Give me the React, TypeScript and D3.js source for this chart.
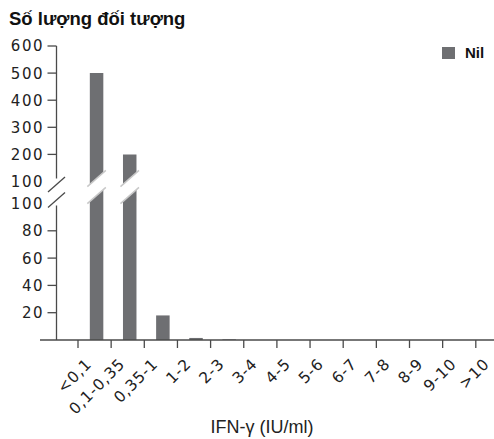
import React from 'react'
import * as d3 from 'd3'

// IFN-γ categories and the Nil counts
const categories = ['<0,1', '0,1-0,35', '0,35-1', '1-2', '2-3', '3-4', '4-5', '5-6', '6-7', '7-8', '8-9', '9-10', '>10']
const nilValues = [500, 200, 18, 1.5, 0.5, 0, 0, 0, 0, 0, 0, 0, 0]
const lowTicks = [20, 40, 60, 80]
const highTicks = [200, 300, 400, 500, 600]
const breakValue = 100

const W = 494
const H = 439
const barColor = '#6e6f72'
const axisColor = '#4a4a4a'
const tickFont = '"DejaVu Sans", sans-serif'
const textFont = '"Liberation Sans", Arial, sans-serif'

export default function App() {
    const axisX = 56.5
    const baseY = 340
    const x = d3.scaleBand<string>().domain(categories).range([78, 78 + 13 * 33.15])
    const yLow = d3.scaleLinear().domain([0, breakValue]).range([baseY, 203.5])
    const yHigh = d3.scaleLinear().domain([breakValue, 600]).range([181.5, 46])

    const bw = x.bandwidth()
    const barW = 13.5
    const slope = 15 / 17
    const cutLow = yLow(breakValue) - 8
    const cutHigh = yHigh(breakValue) - 3

    const slash = (cy: number) => `M${axisX - 8.5},${cy + 7.5}L${axisX + 8.5},${cy - 7.5}`

    return (
        <div style={{ position: 'absolute', left: 0, top: 0 }}>
            <svg width={W} height={H} style={{ display: 'block', background: '#fff' }}>
                <text x={9} y={25} fontFamily={textFont} fontWeight='bold' fontSize={18.5} fill='#111'>
                    Số lượng đối tượng
                </text>

                {/* bars */}
                {nilValues.map((v, i) => {
                    const c = categories[i]
                    const x0 = (x(c) as number) + (bw - barW) / 2 + 2
                    const x1 = x0 + barW
                    const cx = (x0 + x1) / 2
                    if (v <= 0) return null
                    if (v <= breakValue) {
                        return (
                            <rect key={c} x={x0} y={yLow(v)} width={barW} height={baseY - yLow(v)} fill={barColor} />
                        )
                    }
                    const lowL = cutLow + slope * (cx - x0)
                    const lowR = cutLow - slope * (x1 - cx)
                    const hiL = cutHigh + slope * (cx - x0)
                    const hiR = cutHigh - slope * (x1 - cx)
                    const ext = 2.5
                    return (
                        <g key={c}>
                            <path d={`M${x0},${baseY}L${x1},${baseY}L${x1},${lowR}L${x0},${lowL}Z`} fill={barColor} />
                            <path d={`M${x0},${yHigh(v)}L${x1},${yHigh(v)}L${x1},${hiR}L${x0},${hiL}Z`} fill={barColor} />
                            <line x1={x0 - ext} y1={lowL + slope * ext} x2={x1 + ext} y2={lowR - slope * ext} stroke='#c8c8c8' strokeWidth={1.5} />
                            <line x1={x0 - ext} y1={hiL + slope * ext} x2={x1 + ext} y2={hiR - slope * ext} stroke='#c8c8c8' strokeWidth={1.5} />
                        </g>
                    )
                })}

                {/* y axis with break */}
                <g stroke={axisColor} strokeWidth={1.3} fill='none'>
                    <line x1={axisX} y1={yHigh(600)} x2={axisX} y2={yHigh(breakValue) - 3} />
                    <line x1={axisX} y1={yLow(breakValue) + 2} x2={axisX} y2={baseY} />
                    <path d={slash(yHigh(breakValue) + 3)} />
                    <path d={slash(yLow(breakValue) - 3.5)} />
                    {highTicks.map(t => (
                        <line key={'h' + t} x1={axisX - 9} x2={axisX} y1={yHigh(t)} y2={yHigh(t)} />
                    ))}
                    {lowTicks.map(t => (
                        <line key={'l' + t} x1={axisX - 9} x2={axisX} y1={yLow(t)} y2={yLow(t)} />
                    ))}
                </g>
                <g fontFamily={tickFont} fontSize={15} letterSpacing={1.5} fill='#222' textAnchor='end'>
                    {highTicks.map(t => (
                        <text key={'ht' + t} x={44} y={yHigh(t)} dy='0.36em'>{t}</text>
                    ))}
                    <text x={44} y={yHigh(breakValue)} dy='0.36em'>{breakValue}</text>
                    <text x={44} y={yLow(breakValue)} dy='0.36em'>{breakValue}</text>
                    {lowTicks.map(t => (
                        <text key={'lt' + t} x={44} y={yLow(t)} dy='0.36em'>{t}</text>
                    ))}
                </g>

                {/* x axis */}
                <g stroke={axisColor} strokeWidth={1.3}>
                    <line x1={40} x2={W} y1={baseY} y2={baseY} />
                    {categories.map(c => (
                        <line key={c} x1={x(c)} x2={x(c)} y1={baseY} y2={baseY + 8} />
                    ))}
                </g>
                <g fontFamily={tickFont} fontSize={15.5} letterSpacing={0.8} fill='#222' textAnchor='end'>
                    {categories.map(c => {
                        const lx = (x(c) as number) + bw / 2 - 2
                        const ly = 365
                        return (
                            <text key={c} x={lx} y={ly} transform={`rotate(-45,${lx},${ly})`}>
                                {c}
                            </text>
                        )
                    })}
                </g>

                <text x={262} y={433} textAnchor='middle' fontFamily={textFont} fontSize={18} fill='#222'>
                    IFN-γ (IU/ml)
                </text>

                {/* legend */}
                <rect x={442} y={47} width={13} height={12} fill={barColor} />
                <text x={465} y={58} fontFamily={textFont} fontWeight='bold' fontSize={15} fill='#111'>
                    Nil
                </text>
            </svg>
        </div>
    )
}
